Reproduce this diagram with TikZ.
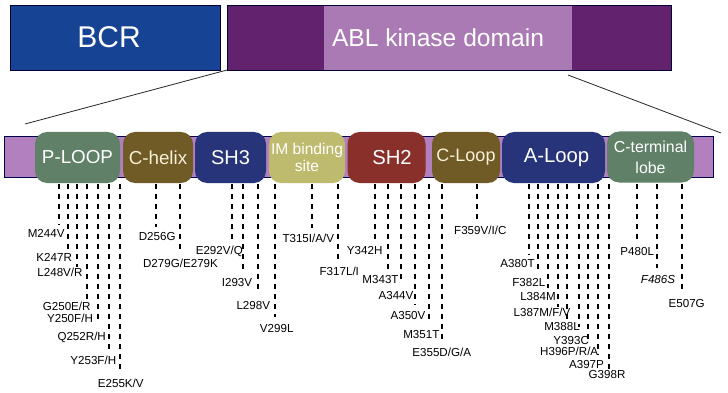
\documentclass[tikz,border=0pt]{standalone}
\usepackage{fontspec}
\setmainfont{Liberation Sans}
\definecolor{bcrblue}{RGB}{22,67,148}
\definecolor{abldark}{RGB}{98,34,110}
\definecolor{abllight}{RGB}{170,122,180}
\definecolor{barpurple}{RGB}{178,128,190}
\definecolor{dgreen}{RGB}{96,128,104}
\definecolor{dolive}{RGB}{112,90,38}
\definecolor{dnavy}{RGB}{40,52,122}
\definecolor{dkhaki}{RGB}{190,186,110}
\definecolor{dred}{RGB}{138,48,42}
\definecolor{cream}{RGB}{246,240,214}
\tikzset{
  topbox/.style={draw=black!80!blue, line width=0.8pt, inner sep=0pt, anchor=north west},
  dombox/.style={rounded corners=12pt, inner sep=0pt, minimum height=51pt, text=white, align=center},
  mutline/.style={line width=2.2pt, dash pattern=on 5pt off 5pt},
  mut/.style={anchor=base, inner sep=0pt, font=\fontsize{11.6}{13}\selectfont},
  zoomline/.style={line width=0.8pt, black!85},
}
\begin{document}
\begin{tikzpicture}[x=1pt,y=-1pt]
\useasboundingbox (0,0) rectangle (728,393);
% top bar
\node[topbox, fill=bcrblue, minimum width=210pt, minimum height=65pt] (bcr) at (10,5) {};
\node[text=white, font=\fontsize{30}{32}\selectfont] (bcrt) at (109,37.5) {BCR};
\node[topbox, fill=abldark, minimum width=444pt, minimum height=65pt] (abl) at (227,5) {};
\fill[abllight] (324,5.4) rectangle (572,69.6);
\draw[black!80!blue, line width=0.8pt] (227,5) rectangle (671,70);
\node[text=white, font=\fontsize{24.6}{26}\selectfont] (ablt) at (438,37.5) {ABL kinase domain};
% zoom lines
\coordinate (zl1) at (227,70);
\coordinate (zl2) at (25,124);
\coordinate (zr1) at (568,75);
\coordinate (zr2) at (721,133);
\draw[zoomline] (zl1) -- (zl2);
\draw[zoomline] (zr1) -- (zr2);
% lower bar
\node[draw=black!70!blue, line width=0.8pt, fill=barpurple, anchor=north west, inner sep=0pt, minimum width=709pt, minimum height=41pt] (bar) at (4,136) {};
% domains
\node[dombox, fill=dgreen, minimum width=85pt, font=\fontsize{18.8}{20}\selectfont] (ploop) at (77.5,157.5) {P-LOOP};
\node[dombox, fill=dolive, minimum width=70pt, text=cream, font=\fontsize{18.8}{20}\selectfont] (chelix) at (158,157.5) {C-helix};
\node[dombox, fill=dnavy, minimum width=71pt, font=\fontsize{20}{22}\selectfont] (sh3) at (230.5,157.5) {SH3};
\node[dombox, fill=dkhaki, minimum width=76pt, font=\fontsize{15.6}{16.7}\selectfont] (im) at (307,157.5) {IM binding\\site};
\node[dombox, fill=dred, minimum width=78pt, font=\fontsize{20.3}{22}\selectfont] (sh2) at (386.5,157.5) {\hspace*{11pt}SH2};
\node[dombox, fill=dolive, minimum width=68pt, text=cream, font=\fontsize{18}{20}\selectfont] (cloop) at (466,157.5) {C-Loop};
\node[dombox, fill=dnavy, minimum width=103pt, font=\fontsize{20.3}{22}\selectfont] (aloop) at (553.5,157.5) {\hspace*{6pt}A-Loop};
\node[dombox, fill=dgreen, minimum width=87pt, font=\fontsize{15.9}{20.7}\selectfont] (cterm) at (650.5,157) {C-terminal\\lobe};
% mutation lines
\foreach \n/\x/\y in {1/59/225, 2/67.7/250, 3/76.7/267, 4/87.3/300, 5/97.7/322, 6/109/352, 7/120/370,
  8/156/227, 9/180/250,
  10/231.7/242, 11/243.3/272, 12/258.3/292, 13/275/317,
  14/311.7/228, 15/338.3/260,
  16/375/242, 17/387.7/270, 18/401/283, 19/415/305, 20/429/323, 21/441.7/343,
  22/476.7/222,
  23/529/255, 24/538.3/273, 25/547.7/288, 26/557.7/307, 27/567.3/322, 28/579/327, 29/588.3/343, 30/598.3/355, 31/609/370,
  32/637.3/240, 33/657.3/268, 34/681.7/292} {
  \coordinate (t\n) at (\x,184);
  \coordinate (b\n) at (\x,\y);
  \draw[mutline] (t\n) -- (b\n);
}
% mutation labels (base = visual centre + 4.2)
\node[mut] (m244) at (46.2,237.5) {M244V};
\node[mut] (k247) at (54.2,261.5) {K247R};
\node[mut] (l248) at (60,276.9) {L248V/R};
\node[mut] (g250) at (66.7,310.9) {G250E/R};
\node[mut] (y250) at (70,322.5) {Y250F/H};
\node[mut] (q252) at (81.7,340.9) {Q252R/H};
\node[mut] (y253) at (93.3,364.9) {Y253F/H};
\node[mut] (e255) at (120.8,387.5) {E255K/V};
\node[mut] (d256) at (157.2,240.9) {D256G};
\node[mut] (d279) at (180.5,267.5) {D279G/E279K};
\node[mut] (e292) at (219.3,254.9) {E292V/Q};
\node[mut] (i293) at (237,286.9) {I293V};
\node[mut] (l298) at (253.3,309.2) {L298V};
\node[mut] (v299) at (276.7,332.5) {V299L};
\node[mut] (t315) at (308.3,242.5) {T315I/A/V};
\node[mut] (f317) at (339.3,275.9) {F317L/I};
\node[mut] (y342) at (364.7,254.2) {Y342H};
\node[mut] (m343) at (380.5,283.2) {M343T};
\node[mut] (a344) at (396,299.2) {A344V};
\node[mut] (a350) at (408,319.9) {A350V};
\node[mut] (m351) at (421.3,338.2) {M351T};
\node[mut] (e355) at (441.7,356.9) {E355D/G/A};
\node[mut] (f359) at (480.3,234.2) {F359V/I/C};
\node[mut] (a380) at (517.5,267.5) {A380T};
\node[mut] (f382) at (528.8,286.9) {F382L};
\node[mut] (l384) at (538,300.9) {L384M};
\node[mut] (l387) at (542,316.9) {L387M/F/V};
\node[mut] (m388) at (562,330.2) {M388L};
\node[mut] (y393) at (571.2,344.2) {Y393C};
\node[mut] (h396) at (569.2,355.9) {H396P/R/A};
\node[mut] (a397) at (586.5,368.2) {A397P};
\node[mut] (g398) at (607,378.2) {G398R};
\node[mut] (p480) at (637.2,255.9) {P480L};
\node[mut, font=\fontsize{11.6}{13}\selectfont\itshape] (f486) at (658,283.5) {F486S};
\node[mut] (e507) at (686.7,307.5) {E507G};
\end{tikzpicture}
\end{document}
